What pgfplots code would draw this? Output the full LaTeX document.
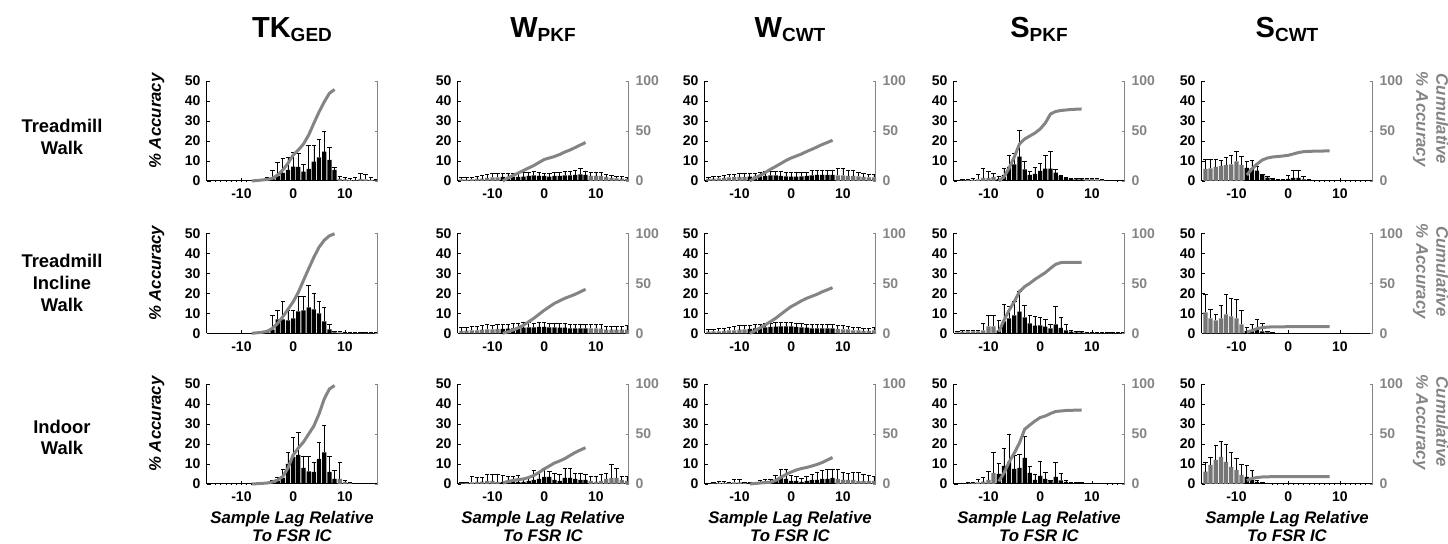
\documentclass[border=0pt]{standalone}
\usepackage{fontspec}
\setmainfont{Liberation Sans}
\usepackage{pgfplots}
\usepackage{pgfplotstable}
\pgfplotsset{compat=1.18}
\definecolor{lg}{RGB}{132,132,132}
\definecolor{bg}{RGB}{118,118,118}
\newcommand\tickfont{\fontsize{7}{7.5}\selectfont\bfseries}
\newcommand\labfont{\fontsize{8.4}{10}\selectfont\bfseries\itshape}
\newcommand\rowfont{\fontsize{9.2}{10.8}\selectfont\bfseries}
\newcommand\titfont{\fontsize{14.5}{15}\selectfont\bfseries}
\newcommand\subfont{\fontsize{9.5}{10}\selectfont\bfseries}

% P11 TKGED Treadmill Walk
\pgfplotstableread{
x y e c
-16 0.1 0.1 nan
-15 0.1 0.1 nan
-14 0.1 0.1 nan
-13 0.1 0.1 nan
-12 0.1 0.1 nan
-11 0.1 0.1 nan
-10 0.1 0.1 nan
-9 0.1 0.1 nan
-8 0.2 0.2 0
-7 0.2 0.3 0.5
-6 0.3 0.6 1
-5 0.5 1.5 1.5
-4 1.0 4.5 2.7
-3 2.5 7 6
-2 4 7.5 11
-1 5.5 6.5 17.7
0 7.2 7 26
1 7 7 31
2 4.7 3.6 37
3 6 12 46
4 9.7 8.3 57.7
5 11.8 9.2 69
6 14.7 10.3 79
7 10.5 6.5 87.7
8 5.5 1.5 91.5
9 1 1.5 nan
10 0.8 1 nan
11 0.5 1 nan
12 0.3 1.5 nan
13 1 3 nan
14 0.8 2.5 nan
15 0.5 1.5 nan
16 0.3 0.5 nan
}\tabA
% P12 WPKF Treadmill Walk
\pgfplotstableread{
x y e c
-16 0.8 1 nan
-15 0.7 1 nan
-14 0.8 1 nan
-13 1 1.2 nan
-12 1.2 1.5 nan
-11 1.5 1.8 nan
-10 1.8 2 nan
-9 1.8 2 nan
-8 2 2 0
-7 2 2 3
-6 2.2 1.8 5.5
-5 2 2 8
-4 2.2 2 10.5
-3 2.5 2 13
-2 2.8 2.2 15.5
-1 2.5 2 18.5
0 2.5 1.5 21.5
1 2.2 1.5 23
2 2.5 1.8 24.5
3 2.5 2 26.5
4 2.8 2 29
5 2.8 2 31
6 3 2.5 33.5
7 3.3 3 36
8 3 2 38.5
9 2.5 2 nan
10 2.5 1.8 nan
11 2.5 1.8 nan
12 2 1.5 nan
13 1.5 1.5 nan
14 1.3 1.2 nan
15 1.2 1.2 nan
16 1 1 nan
}\tabB
% P13 WCWT Treadmill Walk
\pgfplotstableread{
x y e c
-16 1 1 nan
-15 1.2 1 nan
-14 1.3 1.2 nan
-13 1.5 1.2 nan
-12 1.8 1.5 nan
-11 2 1.5 nan
-10 2 1.8 nan
-9 2 2 nan
-8 2.2 1.8 0
-7 2.2 1.8 3
-6 2.3 1.8 5.5
-5 2.5 2.2 8.5
-4 2.8 2.2 11.7
-3 2.8 2.2 14.5
-2 2.5 2.2 17.5
-1 2.3 2 20.5
0 2.2 2 23
1 2.2 2 25
2 2.3 2 27
3 2.5 2 29.5
4 2.8 2.5 31.7
5 3 2.5 34
6 3 2.5 36.5
7 3 2.5 38.5
8 3 2.5 40.7
9 2.8 3.5 nan
10 2.8 3.7 nan
11 2.5 3 nan
12 2.5 3 nan
13 2.3 2.2 nan
14 2 2 nan
15 1.8 1.7 nan
16 1.8 1.7 nan
}\tabC
% P14 SPKF Treadmill Walk
\pgfplotstableread{
x y e c
-16 0.2 0.3 nan
-15 0.3 0.3 nan
-14 0.4 0.5 nan
-13 0.5 0.7 nan
-12 0.8 2.5 nan
-11 1.5 5 nan
-10 1.5 3.5 nan
-9 2 2 nan
-8 1 1.5 0
-7 3 3.5 4
-6 7 6 13
-5 8.3 5.5 24
-4 12.2 13 37
-3 5.8 4 42
-2 3 2 45
-1 3.5 3.5 48
0 5 4 52
1 6.2 6.5 58
2 6.2 8.5 67
3 4.2 1.5 69.5
4 2.5 0.5 70.5
5 1.5 0.5 71
6 1 0.3 71.5
7 0.8 0.3 71.8
8 0.8 0.3 72
9 1 0.5 nan
10 1 0.5 nan
11 0.8 0.5 nan
12 0.5 0.3 nan
13 0.2 0.2 nan
14 0.2 0.2 nan
15 0.1 0.1 nan
16 0.1 0.1 nan
}\tabD
% P15 SCWT Treadmill Walk
\pgfplotstableread{
x y e c
-16 6 4.8 nan
-15 6.3 4.5 nan
-14 7 3.8 nan
-13 7.5 3 nan
-12 8 4 nan
-11 8.3 4.5 nan
-10 9.8 5 nan
-9 8 4.5 nan
-8 6.5 3.5 6
-7 6.3 4.2 12
-6 5.2 2 17
-5 3 0.5 21
-4 1.7 0.8 23
-3 1 0.5 24
-2 0.5 0.3 24.5
-1 0.5 0.3 25
0 1 2 25.7
1 1.5 3.8 27
2 1.5 4 28.5
3 0.8 1.7 29.3
4 0.3 0.5 29.6
5 0.1 0.1 29.8
6 0.1 0.1 29.9
7 0.1 0.1 30
8 0.1 0.1 30
9 0.1 0.1 nan
10 0.1 0.1 nan
11 0.1 0.1 nan
12 0.1 0.1 nan
13 0.1 0.1 nan
14 0.1 0.1 nan
15 0.1 0.1 nan
16 0.1 0.1 nan
}\tabE
% P21 TKGED Treadmill Incline Walk
\pgfplotstableread{
x y e c
-16 0.1 0.1 nan
-15 0.1 0.1 nan
-14 0.1 0.1 nan
-13 0.1 0.1 nan
-12 0.1 0.1 nan
-11 0.1 0.1 nan
-10 0.1 0.1 nan
-9 0.1 0.1 nan
-8 0.1 0.1 0
-7 0.1 0.1 0.5
-6 0.2 0.3 1
-5 0.5 0.8 2
-4 1.8 7.2 5
-3 7 4.5 10
-2 7 9 16.5
-1 6.5 5 24
0 7.5 4 31.5
1 11 7.5 41
2 11.5 7 53
3 13 11 64.6
4 12 8 76
5 10 6 86
6 6 7 93
7 2 2.5 97.5
8 0.5 0.5 99.5
9 0.5 0.5 nan
10 0.3 0.3 nan
11 0.2 0.2 nan
12 0.2 0.2 nan
13 0.2 0.2 nan
14 0.2 0.2 nan
15 0.2 0.2 nan
16 0.2 0.2 nan
}\tabF
% P22 WPKF Treadmill Incline Walk
\pgfplotstableread{
x y e c
-16 1.2 1.8 nan
-15 1.3 1.8 nan
-14 1.5 2 nan
-13 1.5 2.2 nan
-12 1.8 2.2 nan
-11 2 2.5 nan
-10 2 2.2 nan
-9 2.2 2.2 nan
-8 2.2 2.2 0
-7 2.3 2.2 1.5
-6 2.5 2.5 3.3
-5 2.5 2.5 5.5
-4 2.8 2.5 8
-3 3 2.5 11.5
-2 3 2.2 15
-1 3.2 2.2 19
0 3.2 2.2 23
1 3 2 26.5
2 3 2 30
3 2.8 2 32.5
4 2.8 2 35
5 2.5 2 37
6 2.5 2 39
7 2.5 2 41.5
8 2.5 2.2 44
9 2.5 2.2 nan
10 2.5 2 nan
11 2.3 2 nan
12 1.8 1.5 nan
13 1.8 1.5 nan
14 1.8 1.5 nan
15 1.8 1.5 nan
16 1.8 2 nan
}\tabG
% P23 WCWT Treadmill Incline Walk
\pgfplotstableread{
x y e c
-16 0.8 1.2 nan
-15 1 1.2 nan
-14 1 1.5 nan
-13 1.2 1.5 nan
-12 1.5 1.5 nan
-11 1.5 1.8 nan
-10 1.8 2 nan
-9 2 2 nan
-8 2.2 2 0
-7 2.5 2 2.5
-6 2.8 1.8 5.5
-5 3 1.8 8.5
-4 3.2 1.8 11.7
-3 3.3 2 15
-2 3.5 2 19
-1 3.5 2 23
0 3.5 2 26.7
1 3.2 1.8 29.5
2 3 1.8 32.5
3 2.8 1.8 35
4 2.5 1.8 37
5 2.5 1.8 39
6 2.5 2 41.5
7 2.5 2 43.5
8 2.5 2 45.7
9 2.2 2 nan
10 2 1.8 nan
11 2 1.5 nan
12 1.5 1.5 nan
13 1.5 1.5 nan
14 1.2 1.5 nan
15 1.2 1.5 nan
16 1.5 1.5 nan
}\tabH
% P24 SPKF Treadmill Incline Walk
\pgfplotstableread{
x y e c
-16 0.5 0.5 nan
-15 0.8 0.5 nan
-14 1 0.5 nan
-13 1 0.5 nan
-12 1 0.5 nan
-11 1.5 3.5 nan
-10 3.5 5.5 nan
-9 3.5 5.5 nan
-8 1.5 5 1.5
-7 6 8.5 13
-6 7.5 6 23
-5 9 6.8 31.7
-4 10.8 10 41.7
-3 8 5.8 46.7
-2 5 4 50
-1 3.8 4.5 54
0 4 4 57.3
1 3.3 3.7 60.7
2 2.5 2 65
3 4.5 8.8 69
4 2.7 5.1 70.7
5 1.5 2.8 71
6 0.8 0.7 71
7 0.5 0.3 71
8 0.5 0.3 71
9 0.3 0.2 nan
10 0.3 0.2 nan
11 0.2 0.1 nan
12 0.2 0.1 nan
13 0.2 0.1 nan
14 0.2 0.1 nan
15 0.2 0.1 nan
16 0.2 0.1 nan
}\tabI
% P25 SCWT Treadmill Incline Walk
\pgfplotstableread{
x y e c
-16 10.5 9 nan
-15 7.5 4.5 nan
-14 6.5 3 nan
-13 7.5 6.5 nan
-12 9.5 10 nan
-11 8.5 9 nan
-10 7.5 9.3 nan
-9 4.5 7 nan
-8 1.2 1.8 1.2
-7 1.5 3 2.7
-6 2 5 4.7
-5 1 4 5.7
-4 0.5 0.5 6.2
-3 0.2 0.2 6.4
-2 0.1 0.1 6.5
-1 0.1 0.1 6.5
0 0.1 0.1 6.6
1 0.1 0.1 6.6
2 0.1 0.1 6.6
3 0.1 0.1 6.6
4 0.1 0.1 6.7
5 0.1 0.1 6.7
6 0.1 0.1 6.7
7 0.1 0.1 6.7
8 0.1 0.1 6.7
9 0.1 0.1 nan
10 0.1 0.1 nan
11 0.1 0.1 nan
12 0.1 0.1 nan
13 0.1 0.1 nan
14 0.1 0.1 nan
15 0.1 0.1 nan
16 0.1 0.1 nan
}\tabJ
% P31 TKGED Indoor Walk
\pgfplotstableread{
x y e c
-16 0.1 0.1 nan
-15 0.1 0.1 nan
-14 0.1 0.1 nan
-13 0.1 0.1 nan
-12 0.1 0.1 nan
-11 0.1 0.1 nan
-10 0.1 0.1 nan
-9 0.1 0.1 nan
-8 0.1 0.1 0
-7 0.1 0.1 0.3
-6 0.2 0.2 0.6
-5 0.3 0.5 1
-4 0.6 1 2
-3 1.5 2 4
-2 3 4.5 7.5
-1 10 5.6 16
0 13.5 10 29
1 14.5 11.2 36
2 8 6 42
3 6.3 7.7 50
4 6 4.6 58
5 12.5 8.5 70
6 15.8 13.7 85
7 6 8 95
8 2.5 4.5 98.5
9 2.5 8.5 nan
10 1 1 nan
11 0.5 0.5 nan
12 0.2 0.2 nan
13 0.2 0.2 nan
14 0.2 0.2 nan
15 0.2 0.2 nan
16 0.2 0.2 nan
}\tabK
% P32 WPKF Indoor Walk
\pgfplotstableread{
x y e c
-16 0.3 0.5 nan
-15 0.5 0.5 nan
-14 0.8 3 nan
-13 1 2.5 nan
-12 1.2 2 nan
-11 1.5 3.5 nan
-10 1.5 3.5 nan
-9 1 4 nan
-8 1 3.5 1
-7 1.5 2.5 2.5
-6 1.5 2.5 3.5
-5 1 3.5 4.5
-4 1 2 5
-3 1.5 2 6.5
-2 2 5 8.5
-1 2.5 3.5 11.5
0 3.5 4.5 15
1 3.5 3 18
2 2 3.5 21
3 1.5 3.5 23
4 3 5 25.4
5 3 5 28.5
6 2.5 3 31.5
7 2 3.5 34
8 2 3 36.3
9 1.5 2.5 nan
10 1 3 nan
11 1.5 3.5 nan
12 2.5 3 nan
13 3 7 nan
14 3 5 nan
15 2 2 nan
16 1.5 2.5 nan
}\tabL
% P33 WCWT Indoor Walk
\pgfplotstableread{
x y e c
-16 0.2 0.3 nan
-15 0.3 0.5 nan
-14 0.5 0.8 nan
-13 0.5 0.8 nan
-12 0.5 0.5 nan
-11 0.8 1.5 nan
-10 0.8 1.5 nan
-9 0.5 0.5 nan
-8 0.5 0.5 0
-7 0.5 0.5 0.5
-6 0.8 1 1
-5 1 1.5 1.5
-4 1 1.5 1.7
-3 1.5 3 3.5
-2 3 4.5 6.6
-1 2.5 5 9.5
0 1.5 3 12
1 1.5 2.5 14
2 1 2 15.5
3 1.5 2.5 16.5
4 2 3 18
5 2 4 19.5
6 2.5 4.5 21.5
7 2.5 5 24
8 3 4.5 26.5
9 2.5 5 nan
10 2 4 nan
11 2 3.5 nan
12 2 4 nan
13 1.5 4.5 nan
14 1.5 3.5 nan
15 1.5 3 nan
16 1.5 2.5 nan
}\tabM
% P34 SPKF Indoor Walk
\pgfplotstableread{
x y e c
-16 0.1 0.1 nan
-15 0.2 0.2 nan
-14 0.3 0.3 nan
-13 0.5 0.5 nan
-12 0.8 1.5 nan
-11 1.2 2.3 nan
-10 2 4.5 nan
-9 5.5 10.3 nan
-8 5 5.5 2.7
-7 9 9 11
-6 11 14 22
-5 7.5 7 31
-4 8 7 41
-3 13 10.8 54.7
-2 5.5 3.2 59
-1 2 3 63
0 4 7.2 66.4
1 2.5 3.2 68
2 1.5 0.5 70.5
3 3.5 7.2 72.5
4 1.8 3.6 73
5 1 0.8 73.5
6 0.5 0.3 73.7
7 0.5 0.3 73.8
8 0.4 0.3 74
9 0.2 0.1 nan
10 0.2 0.1 nan
11 0.2 0.1 nan
12 0.2 0.1 nan
13 0.1 0.1 nan
14 0.1 0.1 nan
15 0.1 0.1 nan
16 0.1 0.1 nan
}\tabN
% P35 SCWT Indoor Walk
\pgfplotstableread{
x y e c
-16 6.2 4.8 nan
-15 9.5 4 nan
-14 12 7.5 nan
-13 13.5 8 nan
-12 11 8.8 nan
-11 8.5 7.5 nan
-10 7 6 nan
-9 4.5 5.5 nan
-8 3.5 5.8 3.5
-7 2 4.8 5.5
-6 1 1 6.5
-5 0.5 0.3 7
-4 0.2 0.1 7.2
-3 0.1 0.1 7.3
-2 0.1 0.1 7.3
-1 0.1 0.1 7.3
0 0.1 0.1 7.3
1 0.1 0.1 7.3
2 0.1 0.1 7.3
3 0.1 0.1 7.3
4 0.1 0.1 7.3
5 0.1 0.1 7.3
6 0.1 0.1 7.3
7 0.1 0.1 7.3
8 0.1 0.1 7.3
9 0.1 0.1 nan
10 0.1 0.1 nan
11 0.1 0.1 nan
12 0.1 0.1 nan
13 0.1 0.1 nan
14 0.1 0.1 nan
15 0.1 0.1 nan
16 0.1 0.1 nan
}\tabO

\pgfplotsset{
 lbase/.style={width=85.5pt, height=50pt, scale only axis, anchor=south west,
  xmin=-16.75, xmax=16.3, ymin=0, ymax=50,
  axis x line*=bottom, axis y line*=left,
  xtick={-10,0,10}, xticklabels={-10,0,10},
  ytick={0,10,20,30,40,50}, yticklabels={0,10,20,30,40,50},
  tick align=inside, major tick length=1.5pt,
  every tick/.style={black, line width=0.4pt},
  axis line style={line width=0.5pt, black},
  ticklabel style={font=\tickfont},
  yticklabel style={xshift=0.5pt},
  xticklabel style={yshift=-0.5pt},
  clip=false},
 rbase/.style={width=85.5pt, height=50pt, scale only axis, anchor=south west,
  xmin=-16.75, xmax=16.3, ymin=0, ymax=100,
  hide x axis, axis y line*=right,
  ytick={0,50,100}, yticklabels={0,50,100},
  tick align=inside, major tick length=1.5pt,
  every tick/.style={lg, line width=0.4pt},
  y axis line style={line width=0.5pt, lg},
  yticklabel style={font=\tickfont, text=lg},
  clip=false},
 bars/.style={ybar, bar shift=0pt, bar width=0.82, draw=none,
  /pgfplots/error bars/y dir=plus, /pgfplots/error bars/y explicit,
  /pgfplots/error bars/error bar style={black, line width=0.35pt},
  /pgfplots/error bars/error mark options={rotate=90, black, mark size=1.1pt, line width=0.35pt}},
}

% #1 x, #2 y, #3 table, #4 extra left commands, #5 right options, #6 extra right commands
\newcommand{\panel}[6]{%
\begin{axis}[lbase, at={(#1,#2)}]
 \addplot[bars, fill=black, restrict x to domain=-8.5:8.5] table[x=x, y=y, y error=e] {#3};
 \addplot[bars, fill=bg, restrict x to domain=-17:-8.5] table[x=x, y=y, y error=e] {#3};
 \addplot[bars, fill=bg, restrict x to domain=8.5:17] table[x=x, y=y, y error=e] {#3};
 #4
\end{axis}
\begin{axis}[rbase, at={(#1,#2)}, #5]
 \addplot[lg, line width=1.5pt, unbounded coords=discard] table[x=x, y=c] {#3};
 #6
\end{axis}}

\newcommand{\ylab}{\node[rotate=90, font=\labfont] at (rel axis cs:-0.29,0.6) {\% Accuracy};}
\newcommand{\rlab}{\node[rotate=-90, font=\labfont, text=lg, align=center] at (rel axis cs:1.34,0.62) {Cumulative\\\% Accuracy};}

\begin{document}
\begin{tikzpicture}
\useasboundingbox (0,0) rectangle (724pt,272pt);
% titles
\node[anchor=base] at (146pt,253pt) {\titfont TK\raisebox{-1.8pt}{\subfont GED}};
\node[anchor=base] at (271.5pt,253pt) {\titfont W\raisebox{-1.8pt}{\subfont PKF}};
\node[anchor=base] at (395pt,253pt) {\titfont W\raisebox{-1.8pt}{\subfont CWT}};
\node[anchor=base] at (519.5pt,253pt) {\titfont S\raisebox{-1.8pt}{\subfont PKF}};
\node[anchor=base] at (643.5pt,253pt) {\titfont S\raisebox{-1.8pt}{\subfont CWT}};
% row labels
\node[align=center, font=\rowfont] at (31pt,203.5pt) {Treadmill\\Walk};
\node[align=center, font=\rowfont] at (31pt,130.5pt) {Treadmill\\Incline\\Walk};
\node[align=center, font=\rowfont] at (31pt,53.3pt) {Indoor\\Walk};
% x labels
\foreach \cx in {146,271.5,395,519.5,643.5}{
 \node[anchor=base, font=\labfont] at (\cx pt,10pt) {Sample Lag Relative};
 \node[anchor=base, font=\labfont] at (\cx pt,1pt) {To FSR IC};
}
% row 1
\panel{103.25pt}{181.5pt}{\tabA}{\ylab}{yticklabels={,,}}{}
\panel{228.75pt}{181.5pt}{\tabB}{}{}{}
\panel{352.25pt}{181.5pt}{\tabC}{}{}{}
\panel{476.75pt}{181.5pt}{\tabD}{}{}{}
\panel{600.75pt}{181.5pt}{\tabE}{}{}{\rlab}
% row 2
\panel{103.25pt}{105.35pt}{\tabF}{\ylab}{yticklabels={,,}}{}
\panel{228.75pt}{105.35pt}{\tabG}{}{}{}
\panel{352.25pt}{105.35pt}{\tabH}{}{}{}
\panel{476.75pt}{105.35pt}{\tabI}{}{}{}
\panel{600.75pt}{105.35pt}{\tabJ}{}{}{\rlab}
% row 3
\panel{103.25pt}{30pt}{\tabK}{\ylab}{yticklabels={,,}}{}
\panel{228.75pt}{30pt}{\tabL}{}{}{}
\panel{352.25pt}{30pt}{\tabM}{}{}{}
\panel{476.75pt}{30pt}{\tabN}{}{}{}
\panel{600.75pt}{30pt}{\tabO}{}{}{\rlab}
\end{tikzpicture}
\end{document}
